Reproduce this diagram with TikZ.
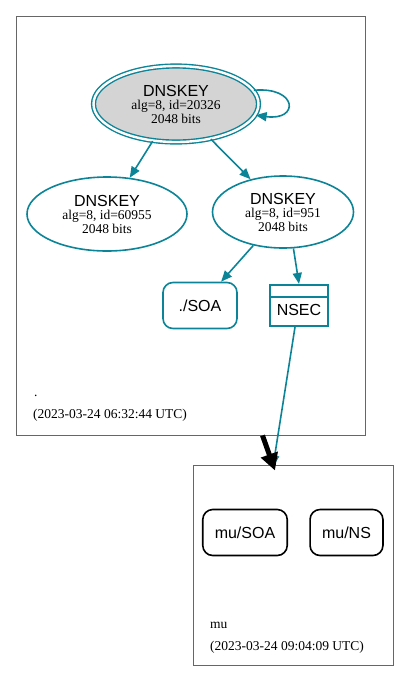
\documentclass[tikz,border=0pt]{standalone}
\usepackage{fontspec}
\setmainfont{Liberation Serif}
\newfontfamily\helv{Liberation Sans}
\usetikzlibrary{shapes.geometric,arrows.meta}
\definecolor{keyteal}{HTML}{0A8496}
\newcommand{\keytext}[1]{{\helv\fontsize{16}{16}\selectfont DNSKEY}\\[-1pt]alg=8, id=#1\\2048 bits}

\begin{document}
\begin{tikzpicture}[x=1pt,y=-1pt,
  every node/.style={font=\fontsize{13.5}{14}\selectfont},
  keynode/.style={ellipse,draw=keyteal,line width=1.6pt,align=center,inner sep=0pt},
  rrnode/.style={rectangle,rounded corners=10pt,draw,line width=1.6pt,inner xsep=12pt,
    minimum height=46pt,font=\helv\fontsize{16}{16}\selectfont},
  zonebox/.style={rectangle,draw=black!60,line width=0.9pt,inner sep=0pt},
  zonelabel/.style={anchor=base west,inner sep=0pt},
  link/.style={keyteal,line width=1.6pt,-{Triangle[length=11pt,width=9pt]}}]
  \useasboundingbox (0,0) rectangle (409,681);
  \node[zonebox, minimum width=349pt, minimum height=419pt] (zoneroot) at (190.5,225.5) {};
  \node[zonebox, minimum width=200pt, minimum height=200pt] (zonemu) at (293,565) {};
  \node[keynode, fill=black!17, double=white, double distance=2.4pt, line width=1.4pt,
    minimum width=165pt, minimum height=76pt] (ksk) at (176,104) {\keytext{20326}};
  \node[keynode, minimum width=160pt, minimum height=74pt] (zsk1) at (107,214) {\keytext{60955}};
  \node[keynode, minimum width=141pt, minimum height=72pt] (zsk2) at (283,212) {\keytext{951}};
  \node[rrnode, draw=keyteal, minimum width=74pt] (soa) at (200,305.5) {./SOA};
  \node[rectangle, draw=keyteal, line width=2.2pt, minimum width=58pt, minimum height=41pt,
    inner sep=0pt, text height=22pt, text depth=3pt, font=\helv\fontsize{16}{16}\selectfont]
    (nsec) at (299,305.5) {NSEC};
  \draw[keyteal, line width=2.2pt] ([yshift=-13pt]nsec.north west) -- ([yshift=-13pt]nsec.north east);
  \node[rrnode] (musoa) at (245,532.5) {mu/SOA};
  \node[rrnode] (muns) at (346.5,532.5) {mu/NS};
  \node[zonelabel] (rootname) at (34,396) {.};
  \node[zonelabel] (roottime) at (33,418) {(2023-03-24 06:32:44 UTC)};
  \node[zonelabel] (muname) at (210,628) {mu};
  \node[zonelabel] (mutime) at (210,650) {(2023-03-24 09:04:09 UTC)};
  \draw[link] (ksk.10) .. controls +(44,-4) and +(44,6) .. (ksk.-8);
  \draw[link] (ksk) -- (zsk1);
  \draw[link] (ksk) -- (zsk2);
  \draw[link] (zsk2) -- (soa);
  \draw[link] (zsk2.-74) -- (nsec.north);
  \draw[link] ([xshift=-4pt]nsec.south) -- ([xshift=-20pt,yshift=-2pt]zonemu.north);
  \draw[line width=5pt, -{Triangle[length=17pt,width=17pt]}]
    ([xshift=72pt]zoneroot.south) -- ([xshift=-18pt,yshift=-6pt]zonemu.north);
\end{tikzpicture}
\end{document}
